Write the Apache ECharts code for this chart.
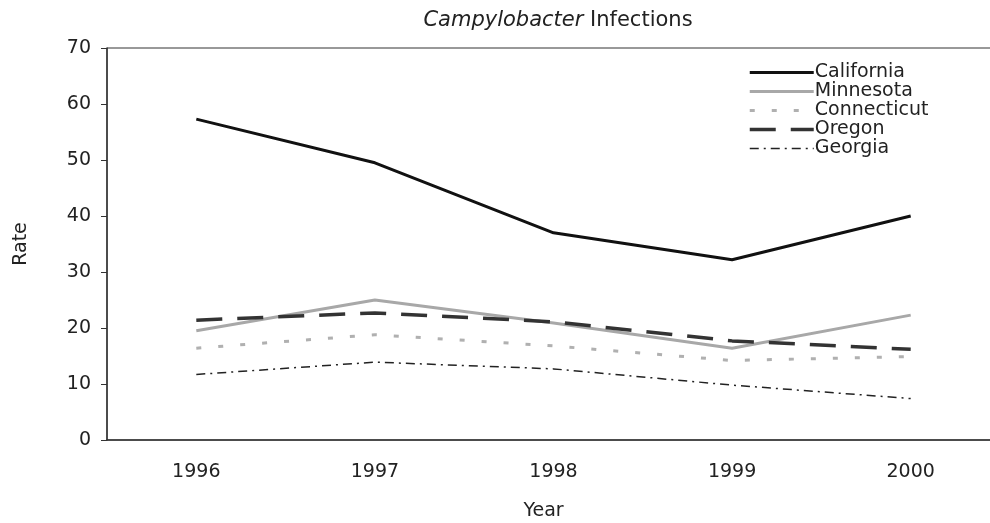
<!DOCTYPE html>
<html>
<head>
<meta charset="utf-8">
<script src="https://cdn.jsdelivr.net/npm/echarts@6/dist/echarts.min.js"></script>
<style>
  html, body { margin: 0; padding: 0; background: #fff; }
  #chart { width: 990px; height: 523px; }
</style>
</head>
<body>
<div id="chart"></div>
<script>
// data
const years = ['1996', '1997', '1998', '1999', '2000']
const states = ['California', 'Minnesota', 'Connecticut', 'Oregon', 'Georgia']
const california = [57.3, 49.5, 37.0, 32.2, 40.0]
const minnesota = [19.5, 25.0, 20.9, 16.4, 22.3]
const connecticut = [16.4, 18.8, 16.8, 14.2, 14.9]
const oregon = [21.4, 22.7, 21.1, 17.7, 16.2]
const georgia = [11.7, 13.9, 12.7, 9.8, 7.4]

const font = 'DejaVu Sans, Liberation Sans, sans-serif'
const chart = echarts.init(document.getElementById('chart'))

// line look per state
const styles = [
  { color: '#111', width: 3, type: 'solid' },
  { color: '#a8a8a8', width: 3, type: 'solid' },
  { color: '#b0b0b0', width: 3, type: [5, 17] },
  { color: '#333', width: 3.5, type: [26, 15] },
  { color: '#222', width: 1.5, type: [9, 5, 2, 5] },
]
const values = [california, minnesota, connecticut, oregon, georgia]

chart.setOption({
  animation: false,
  backgroundColor: '#fff',
  textStyle: { fontFamily: font },
  title: {
    text: '{i|Campylobacter} Infections',
    left: 553,
    textAlign: 'center',
    top: 5,
    textStyle: {
      fontSize: 21,
      fontWeight: 'normal',
      color: '#222',
      fontFamily: font,
      rich: {
        i: { fontStyle: 'italic', fontSize: 21, color: '#222', fontFamily: font },
      },
    },
  },
  legend: {
    orient: 'vertical',
    left: 743,
    top: 58,
    itemWidth: 64,
    itemHeight: 10,
    itemGap: 0,
    itemStyle: { opacity: 0 },
    textStyle: { fontSize: 19, lineHeight: 17, color: '#222', padding: [0, 0, 0, -4] },
    data: states.map((s, i) => ({ name: s, lineStyle: styles[i] })),
  },
  grid: {
    left: 107,
    top: 48,
    height: 392,
    width: 893,
    outerBoundsMode: 'none',
    show: true,
    borderColor: '#333',
    borderWidth: 1,
  },
  xAxis: {
    type: 'category',
    data: years,
    boundaryGap: true,
    name: 'Year',
    nameLocation: 'middle',
    nameGap: 62,
    nameTextStyle: { fontSize: 19, color: '#222', padding: [0, 0, 0, -20] },
    axisLine: { lineStyle: { color: '#333', width: 1.5 } },
    axisTick: { alignWithLabel: true, inside: false, length: 6, lineStyle: { color: '#333' } },
    axisLabel: { fontSize: 19, color: '#222', margin: 23 },
    splitLine: { show: false },
  },
  yAxis: {
    type: 'value',
    min: 0,
    max: 70,
    interval: 10,
    name: 'Rate',
    nameLocation: 'middle',
    nameGap: 76,
    nameTextStyle: { fontSize: 19, color: '#222' },
    axisLine: { show: true, lineStyle: { color: '#333', width: 1.5 } },
    axisTick: { show: true, length: 6, lineStyle: { color: '#333' } },
    axisLabel: { fontSize: 19, color: '#222', margin: 16 },
    splitLine: { show: false },
  },
  series: states.map((s, i) => ({
    name: s,
    type: 'line',
    data: values[i],
    symbol: 'none',
    lineStyle: styles[i],
    itemStyle: { color: styles[i].color },
  })),
})
</script>
</body>
</html>
